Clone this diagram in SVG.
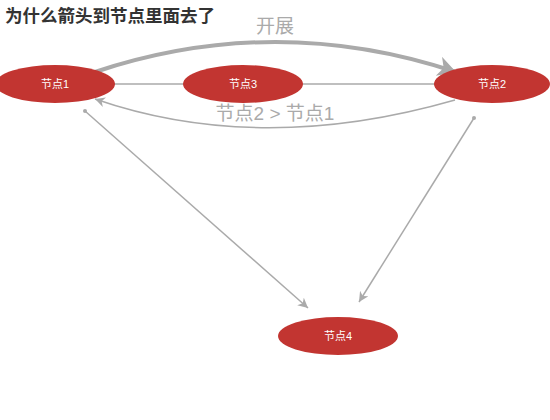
<svg xmlns="http://www.w3.org/2000/svg" width="550" height="420" viewBox="0 0 550 420">
<style>
.node{fill:#c23531}
.nl{fill:#fff;font-family:"Liberation Sans","Noto Sans CJK SC",sans-serif;font-size:11px;text-anchor:middle;dominant-baseline:central}
.edge{fill:none;stroke:#aaa;stroke-width:1.5}
.el{fill:#aaa;font-family:"Liberation Sans","Noto Sans CJK SC",sans-serif;font-size:19px;text-anchor:middle}
</style>
<defs>
<marker id="a" markerUnits="userSpaceOnUse" markerWidth="14" markerHeight="12" refX="10" refY="5" orient="auto">
<path d="M0,0 L10,5 L0,10 L3,5 z" fill="#aaa"/>
</marker>
<marker id="ab" markerUnits="userSpaceOnUse" markerWidth="24" markerHeight="22" refX="18" refY="10" orient="auto">
<path d="M0,0 L18,10 L0,20 L5,10 z" fill="#aaa"/>
</marker>
<marker id="d" markerUnits="userSpaceOnUse" markerWidth="6" markerHeight="6" refX="3" refY="3">
<circle cx="3" cy="3" r="2" fill="#aaa"/>
</marker>
</defs>
<text x="5" y="22" font-family="'Noto Sans CJK SC',sans-serif" font-size="17.5" font-weight="bold" fill="#333">为什么箭头到节点里面去了</text>
<g id="edges">
<line class="edge" x1="110" y1="84" x2="440" y2="84"/>
<path class="edge" d="M95,72 Q275,12 456,72" style="stroke-width:4" marker-end="url(#ab)"/>
<path class="edge" d="M455,100 Q260,156 95,99" marker-end="url(#a)"/>
<line class="edge" x1="85" y1="111" x2="308" y2="308" marker-start="url(#d)" marker-end="url(#a)"/>
<line class="edge" x1="474" y1="118" x2="359" y2="302" marker-start="url(#d)" marker-end="url(#a)"/>
<text class="el" x="275" y="33">开展</text>
<text class="el" x="275" y="120">节点2 &gt; 节点1</text>
</g>
<g id="node1"><ellipse class="node" cx="55" cy="84" rx="60" ry="19"/><text class="nl" x="55" y="84">节点1</text></g>
<g id="node3"><ellipse class="node" cx="243" cy="84" rx="60" ry="19"/><text class="nl" x="243" y="84">节点3</text></g>
<g id="node2"><ellipse class="node" cx="492" cy="84" rx="58" ry="19"/><text class="nl" x="492" y="84">节点2</text></g>
<g id="node4"><ellipse class="node" cx="338" cy="336" rx="60" ry="19"/><text class="nl" x="338" y="336">节点4</text></g>
</svg>
